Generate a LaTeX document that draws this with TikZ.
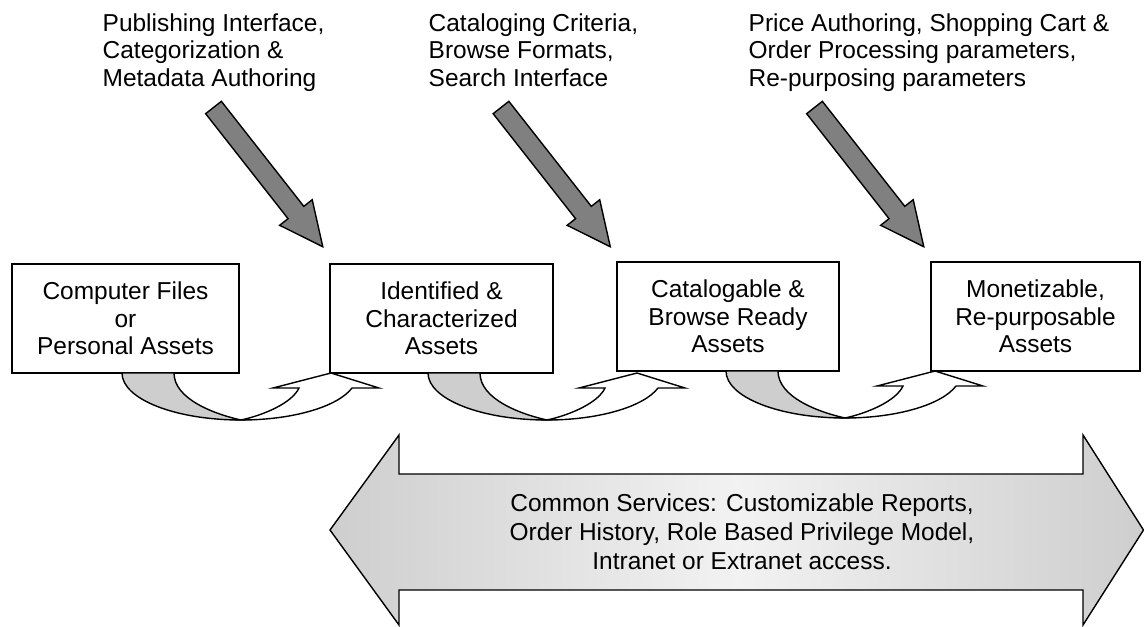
\documentclass[tikz,border=0pt]{standalone}
\usepackage{fontspec}
\setmainfont{Liberation Sans}
\definecolor{arrowgray}{RGB}{128,128,128}
\definecolor{crescentgray}{RGB}{206,206,206}
\definecolor{bandedge}{RGB}{206,206,206}
\definecolor{bandmid}{RGB}{242,242,242}
\newcommand\diagarrow[1]{%
  \begin{scope}[shift={(#1)}, rotate=-51.87]
    \draw[darr] (0,-10) -- (133.5,-10) -- (133.5,-20.7) -- (177,0) -- (133.5,20.7) -- (133.5,10) -- (0,10) -- cycle;
  \end{scope}}
\newcommand\uturnarrow[2]{%
  \draw[cres] (#1,#2) .. controls (#1,#2+26) and (#1+53,#2+47) .. (#1+119,#2+47)
     .. controls (#1+92,#2+41) and (#1+52,#2+26) .. (#1+52,#2) -- cycle;
  \draw[uwhite] (#1+119,#2+47) .. controls (#1+142,#2+42) and (#1+170,#2+30) .. (#1+177,#2+15)
     -- (#1+151,#2+15) -- (#1+209,#2) -- (#1+257,#2+15) -- (#1+230,#2+15)
     .. controls (#1+215.5,#2+34) and (#1+170,#2+47) .. (#1+119,#2+47) -- cycle;}
\begin{document}
\begin{tikzpicture}[x=0.025cm,y=-0.025cm, line width=1pt, line join=miter,
  box/.style={draw, fill=white, inner sep=0pt, align=center, font=\fontsize{17.4}{19.5}\selectfont},
  lbl/.style={anchor=base west, align=left, inner sep=0pt, font=\fontsize{17.4}{19.5}\selectfont},
  darr/.style={draw, fill=arrowgray},
  cres/.style={draw, fill=crescentgray},
  uwhite/.style={draw, fill=white},
  band/.style={draw, left color=bandedge, right color=bandedge, middle color=bandmid},
  bandtext/.style={align=center, inner sep=0pt, font=\fontsize{17.4}{20.6}\selectfont}]
\useasboundingbox (0,0) rectangle (1144,626);

% labels (anchor = baseline of the last line)
\node[lbl] (l1) at (102,86) {Publishing Interface,\\Categorization \&\\Metadata Authoring};
\node[lbl] (l2) at (428,86) {Cataloging Criteria,\\Browse Formats,\\Search Interface};
\node[lbl] (l3) at (748,86) {Price Authoring, Shopping Cart \&\\Order Processing parameters,\\Re-purposing parameters};

% diagonal arrows (tail centres)
\coordinate (t1) at (213.5,107.5);
\coordinate (t2) at (501,107.5);
\coordinate (t3) at (814.5,107.5);
\diagarrow{t1}
\diagarrow{t2}
\diagarrow{t3}

% boxes
\node[box, minimum width=5.675cm, minimum height=2.725cm] (b1) at (125.5,318.5) {Computer Files\\or\\Personal Assets};
\node[box, minimum width=5.575cm, minimum height=2.725cm] (b2) at (441.5,318.5) {Identified \&\\Characterized\\Assets};
\node[box, minimum width=5.55cm, minimum height=2.725cm] (b3) at (728,316.5) {Catalogable \&\\Browse Ready\\Assets};
\node[box, minimum width=5.225cm, minimum height=2.725cm] (b4) at (1035.5,316.5) {Monetizable,\\Re-purposable\\Assets};

% curved arrows
\uturnarrow{122}{373}
\uturnarrow{428}{373}
\uturnarrow{726}{371}

% common services double arrow
\draw[band] (330,530) -- (399,435) -- (399,474) -- (1083,474) -- (1083,435) -- (1143.5,530)
  -- (1083,625) -- (1083,590) -- (399,590) -- (399,625) -- cycle;
\node[bandtext] (cs) at (742,532) {Common Services: Customizable Reports,\\Order History, Role Based Privilege Model,\\Intranet or Extranet access.};
\end{tikzpicture}
\end{document}
